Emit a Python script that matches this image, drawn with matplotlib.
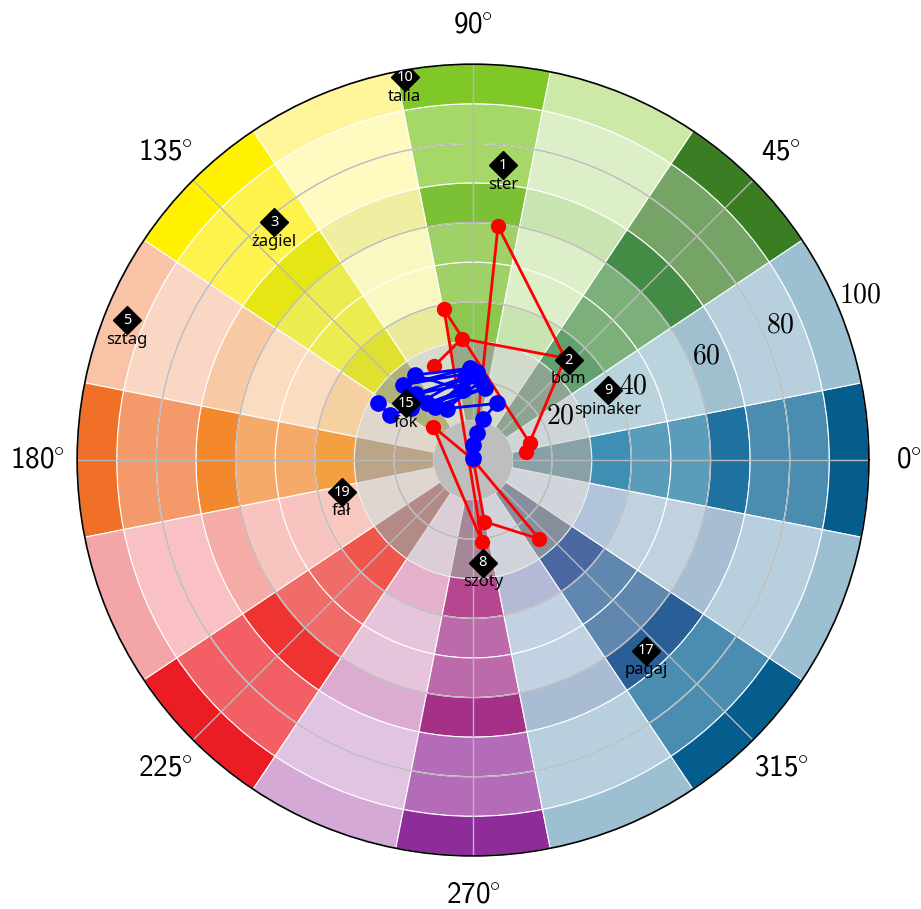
import numpy as np
import matplotlib
matplotlib.use("Agg")
import matplotlib.pyplot as plt

plt.rcParams['mathtext.fontset'] = 'cm'

# 16 sectors, 10 rings each (inner -> outer), colours
sector_angles = np.arange(16) * 22.5
ring_edges = np.arange(0, 100, 10)
cell_colors = [
    ['#508090', '#508090', '#508090', '#3e8fb3', '#5a9dbb', '#5a9dbb', '#1f72a0', '#4a8db0', '#4a8db0', '#045d8d'],
    ['#deecf0', '#deecf0', '#deecf0', '#b8d2dc', '#bad4de', '#bad4de', '#a0c0d0', '#b8d0de', '#b8d0de', '#9dbfd2'],
    ['#5c8864', '#5c8864', '#5c8864', '#62a06e', '#7bb07b', '#7bb07b', '#448c46', '#75a466', '#75a466', '#3a7d23'],
    ['#e4f8d8', '#e4f8d8', '#e4f8d8', '#c8e4b0', '#dcefc8', '#dcefc8', '#c8e4b0', '#dcefc8', '#dcefc8', '#cce9a8'],
    ['#709050', '#709050', '#709050', '#8cc850', '#a0d068', '#a0d068', '#7cc035', '#a5d868', '#a5d868', '#80c828'],
    ['#f0f8d8', '#f0f8d8', '#f0f8d8', '#eaea9a', '#f8f8c0', '#f8f8c0', '#f0eea0', '#fffac0', '#fffac0', '#fff59a'],
    ['#a0a034', '#a0a034', '#a0a034', '#e0e030', '#ecec50', '#ecec50', '#e5e614', '#fef24c', '#fef24c', '#fff100'],
    ['#fff0d8', '#fff0d8', '#fff0d8', '#f5d0a0', '#fadcc0', '#fadcc0', '#f8caa4', '#fad6c4', '#fad6c4', '#f9c3a8'],
    ['#b6884e', '#b6884e', '#b6884e', '#f5a040', '#f5aa6a', '#f5aa6a', '#f3882c', '#f49a6a', '#f49a6a', '#f07028'],
    ['#ffece4', '#ffece4', '#ffece4', '#f8c8c0', '#f9c4c0', '#f9c4c0', '#f6aca6', '#f9c1c3', '#f9c1c3', '#f4a5a8'],
    ['#a8544c', '#a8544c', '#a8544c', '#f0564c', '#f06c68', '#f06c68', '#ee3330', '#f26066', '#f26066', '#ec1c24'],
    ['#f8def0', '#f8def0', '#f8def0', '#e4b0cc', '#e6c4dc', '#e6c4dc', '#dcacd0', '#e0c4e2', '#e0c4e2', '#d4a9d6'],
    ['#8c4e74', '#8c4e74', '#8c4e74', '#b5468f', '#bd6aaa', '#bd6aaa', '#a43088', '#b46cb8', '#b46cb8', '#8e2c9a'],
    ['#e4e8f8', '#e4e8f8', '#e4e8f8', '#b5b9d6', '#c2d2e2', '#c2d2e2', '#a9bcd3', '#b8d0de', '#b8d0de', '#9dbfd2'],
    ['#4e5c7c', '#4e5c7c', '#4e5c7c', '#4b67a1', '#5f87b0', '#5f87b0', '#2a5e96', '#4a8db0', '#4a8db0', '#045d8d'],
    ['#e4ecf8', '#e4ecf8', '#e4ecf8', '#b2c4dc', '#c0d2e0', '#c0d2e0', '#a7bdd3', '#b8d0de', '#b8d0de', '#9dbfd2'],
]

# red track (deg, r)
red_theta = [112.5, 95.2, 47.9, 83.9, 0.0, 140.0, 276.4, 100.9, 16.3, 8.9, 47.9]
red_r = [25.7, 30.8, 34.7, 59.4, 0.1, 13.1, 20.9, 38.8, 15.0, 13.5, 34.7]
red2_theta = [0.0, 310.0, 280.4, 0.0]
red2_r = [0.1, 26.0, 15.8, 0.1]

# blue track (deg, r)
blue_theta = [149.1, 151.5, 129.2, 97.9, 124.3, 91.9, 132.9, 87.6, 125.5, 80.5, 140.0, 95.5,
              130.5, 84.5, 117.0, 67.3, 76.1, 82.0, 90.0, 90.0]
blue_r = [27.9, 23.8, 18.5, 17.8, 26.0, 23.2, 25.9, 22.3, 16.5, 18.4, 20.5, 21.0,
          22.0, 20.0, 14.6, 15.5, 10.8, 6.8, 3.8, 0.5]

# labelled points
mark_ids = ['1', '2', '3', '5', '8', '9', '10', '15', '17', '19']
mark_names = ['ster', 'bom', 'żagiel', 'sztag', 'szoty', 'spinaker', 'talia', 'fok', 'pagaj', 'fał']
mark_theta = [84.2, 46.2, 129.9, 158.0, 275.5, 27.4, 100.1, 139.6, 312.2, 193.7]
mark_r = [74.9, 35.0, 78.3, 94.3, 26.1, 38.4, 98.2, 22.2, 65.1, 34.1]

r_ticks = [20, 40, 60, 80, 100]
theta_ticks = [0, 45, 90, 135, 180, 225, 270, 315]

fig = plt.figure(figsize=(9.21, 9.09), dpi=100)
ax = fig.add_axes([0.0836, 0.0584, 0.86, 0.871], projection='polar')

width = np.deg2rad(22.5)
for i, ang in enumerate(sector_angles):
    ax.bar(np.full(10, np.deg2rad(ang)), 10, width=width, bottom=ring_edges,
           color=cell_colors[i], edgecolor='white', linewidth=0.8, zorder=1)

# translucent hub and solid centre
ax.bar(0, 30, width=2 * np.pi, bottom=0, color='#c0c0c0', alpha=0.5, linewidth=0, zorder=1.2)
ax.bar(0, 10, width=2 * np.pi, bottom=0, color='#bebebe', linewidth=0, zorder=3)

ax.plot(np.deg2rad(red_theta), red_r, '-o', color='red', lw=2, ms=10, zorder=4)
ax.plot(np.deg2rad(red2_theta), red2_r, '-o', color='red', lw=2, ms=10, zorder=4)
ax.plot(np.deg2rad(blue_theta), blue_r, '-o', color='blue', lw=2, ms=11, zorder=4)

for mid, name, t, r in zip(mark_ids, mark_names, mark_theta, mark_r):
    th = np.deg2rad(t)
    ax.plot(th, r, 'D', color='black', ms=14.5, zorder=5)
    ax.annotate(mid, (th, r), ha='center', va='center', color='white', fontsize=10.5,
                family='Noto Sans', zorder=6)
    ax.annotate(name, (th, r), xytext=(0, -14), textcoords='offset points',
                ha='center', va='center', color='black', fontsize=12,
                family='Noto Sans', zorder=6)

ax.set_ylim(0, 100)
ax.set_yticks(r_ticks)
ax.set_yticklabels([r'$%d$' % v for v in r_ticks], fontsize=20)
ax.set_rlabel_position(22.5)
ax.set_xticks(np.deg2rad(theta_ticks))
ax.set_xticklabels([r'$\mathregular{%d}\hspace{-0.06}^{\circ}$' % v for v in theta_ticks],
                   fontsize=21, family='cmss10')
ax.tick_params(axis='x', pad=18)
ax.grid(color='#b8b8b8', linewidth=1)
ax.spines['polar'].set_linewidth(1.2)

fig.savefig('out.png', dpi=100)
